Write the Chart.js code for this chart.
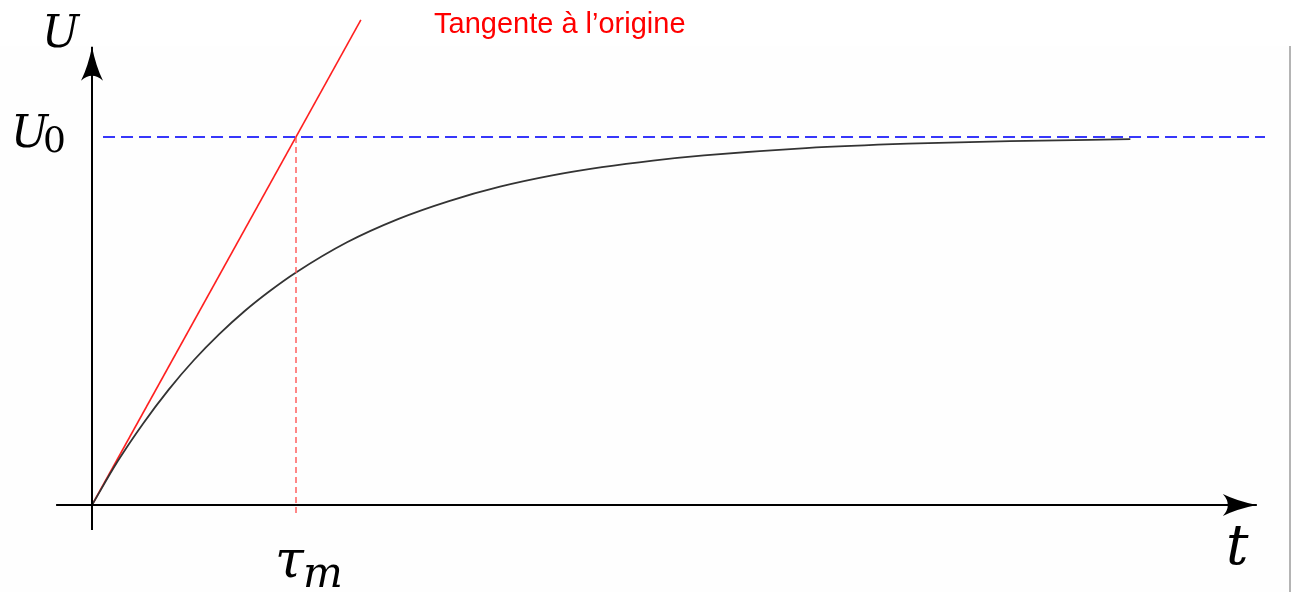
<!DOCTYPE html>
<html>
<head>
<meta charset="utf-8">
<script src="https://cdn.jsdelivr.net/npm/chart.js@4.4.1/dist/chart.umd.min.js"></script>
<style>
  html, body { margin: 0; padding: 0; background: #ffffff; }
  #wrap { position: relative; width: 1296px; height: 592px; }
  canvas { display: block; }
</style>
</head>
<body>
<div id="wrap"><canvas id="c" width="1296" height="592"></canvas></div>
<script>
// ---- Data (time in units of tau_m, voltage in units of U0) ----
const curveT = [0, 0.125, 0.25, 0.375, 0.5, 0.625, 0.75, 0.875, 1, 1.25, 1.5, 1.75, 2, 2.25, 2.5, 2.75, 3, 3.5, 4, 4.5, 5.09];
const curveU = [0, 0.118, 0.221, 0.313, 0.394, 0.465, 0.528, 0.583, 0.632, 0.714, 0.777, 0.826, 0.865, 0.895, 0.918, 0.936, 0.950, 0.970, 0.982, 0.989, 0.994];
const tangentT = [0, 1.318];
const tangentU = [0, 1.318];
const asymptoteT = [0.054, 5.75];
const asymptoteU = [1, 1];
const tauT = [1, 1];
const tauU = [1, -0.03];
const xAxisT = [-0.176, 5.71];
const yAxisU = [-0.068, 1.245];
const labelText = { title: "Tangente à l’origine", yName: "U", u0: "U", u0Sub: "0", tau: "τ", tauSub: "m", xName: "t" };

const pts = (xs, ys) => xs.map((x, i) => ({ x: x, y: ys[i] }));
const MATH = '"DejaVu Serif", serif';

const decor = {
  id: 'decor',
  beforeDraw(chart) {
    const ctx = chart.ctx;
    ctx.save();
    ctx.fillStyle = '#ffffff';
    ctx.fillRect(0, 0, chart.width, chart.height);
    ctx.fillStyle = '#fefefe';
    ctx.fillRect(0, 46, 1289, chart.height - 46);
    ctx.strokeStyle = '#b4b4b4';
    ctx.lineWidth = 2;
    ctx.beginPath();
    ctx.moveTo(1290, 46);
    ctx.lineTo(1290, chart.height);
    ctx.stroke();
    ctx.restore();
  },
  afterDatasetsDraw(chart) {
    const ctx = chart.ctx;
    const xs = chart.scales.x, ys = chart.scales.y;
    ctx.save();
    ctx.fillStyle = '#000';
    // y-axis arrow
    const yx = xs.getPixelForValue(0), ytip = ys.getPixelForValue(yAxisU[1]);
    ctx.beginPath();
    ctx.moveTo(yx, ytip);
    ctx.quadraticCurveTo(yx + 4, ytip + 20, yx + 11, ytip + 34);
    ctx.quadraticCurveTo(yx, ytip + 24, yx - 11, ytip + 34);
    ctx.quadraticCurveTo(yx - 4, ytip + 20, yx, ytip);
    ctx.fill();
    // x-axis arrow
    const xy = ys.getPixelForValue(0), xtip = xs.getPixelForValue(xAxisT[1]);
    ctx.beginPath();
    ctx.moveTo(xtip, xy);
    ctx.quadraticCurveTo(xtip - 20, xy - 4, xtip - 34, xy - 11);
    ctx.quadraticCurveTo(xtip - 24, xy, xtip - 34, xy + 11);
    ctx.quadraticCurveTo(xtip - 20, xy + 4, xtip, xy);
    ctx.fill();

    // texts
    ctx.textBaseline = 'alphabetic';
    ctx.textAlign = 'left';
    ctx.fillStyle = '#ff0000';
    ctx.font = '29px "Liberation Sans", Arial, sans-serif';
    ctx.fillText(labelText.title, 434, 33);

    ctx.fillStyle = '#000';
    ctx.font = 'italic 44px ' + MATH;
    ctx.fillText(labelText.yName, 42, 47);

    const u0y = ys.getPixelForValue(1);
    ctx.font = 'italic 44px ' + MATH;
    ctx.fillText(labelText.u0, 11, u0y + 10);
    ctx.font = '36px ' + MATH;
    ctx.fillText(labelText.u0Sub, 43, u0y + 15);

    const taux = xs.getPixelForValue(1);
    ctx.font = 'italic 52px ' + MATH;
    ctx.fillText(labelText.tau, taux - 21, 577);
    ctx.font = 'italic 42px ' + MATH;
    ctx.fillText(labelText.tauSub, taux + 7, 587);

    ctx.font = 'italic 56px ' + MATH;
    ctx.fillText(labelText.xName, 1226, 564);
    ctx.restore();
  }
};

new Chart(document.getElementById('c'), {
  type: 'line',
  data: {
    datasets: [
      { data: pts(asymptoteT, asymptoteU), borderColor: 'rgb(55,55,250)', borderWidth: 2, borderDash: [12, 6], pointRadius: 0, fill: false },
      { data: pts(tauT, tauU), borderColor: 'rgb(255,85,85)', borderWidth: 1.4, borderDash: [6, 4], pointRadius: 0, fill: false },
      { data: pts(xAxisT, [0, 0]), borderColor: '#000', borderWidth: 2, pointRadius: 0, fill: false },
      { data: pts([0, 0], yAxisU), borderColor: '#000', borderWidth: 2, pointRadius: 0, fill: false },
      { data: pts(curveT, curveU), borderColor: '#333333', borderWidth: 1.8, pointRadius: 0, fill: false, cubicInterpolationMode: 'monotone' },
      { data: pts(tangentT, tangentU), borderColor: '#ff2020', borderWidth: 1.6, pointRadius: 0, fill: false }
    ]
  },
  options: {
    responsive: false,
    animation: false,
    devicePixelRatio: 1,
    layout: { padding: 0 },
    plugins: { legend: { display: false }, tooltip: { enabled: false } },
    scales: {
      x: { type: 'linear', min: -0.451, max: 5.902, display: false },
      y: { type: 'linear', min: -0.2364, max: 1.3723, display: false }
    }
  },
  plugins: [decor]
});
</script>
</body>
</html>
